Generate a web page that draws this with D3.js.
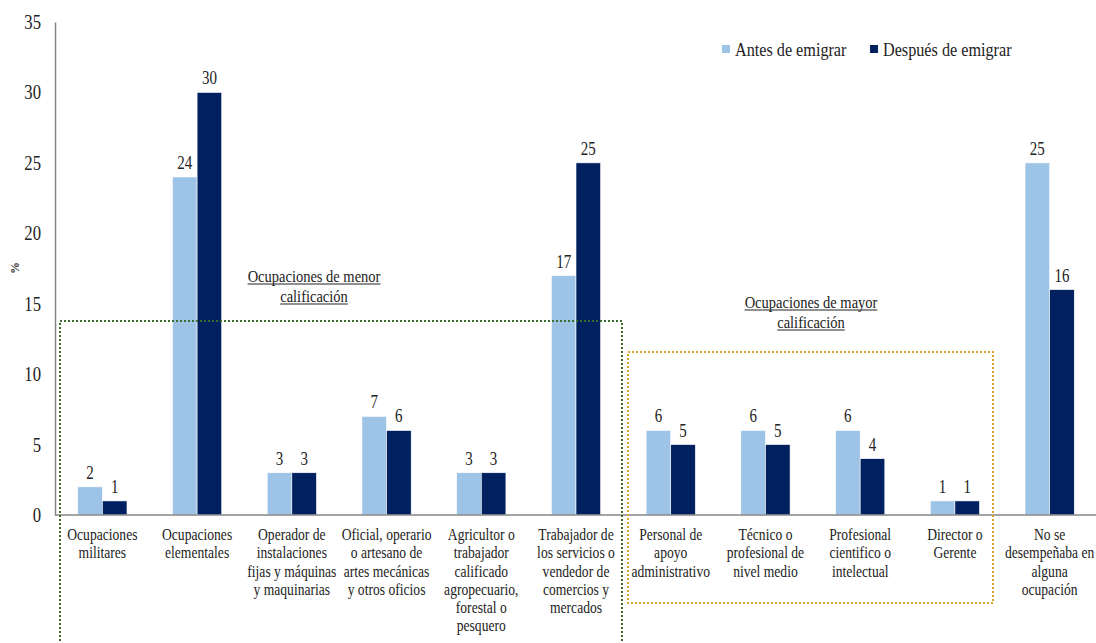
<!DOCTYPE html>
<html>
<head>
<meta charset="utf-8">
<script src="https://cdn.jsdelivr.net/npm/d3@7"></script>
<style>
  body { margin: 0; background: #fff; }
</style>
</head>
<body>
<svg width="1096" height="643" font-family="Liberation Serif"></svg>
<script>
// categories, one array of lines per label
const categories = [
    ["Ocupaciones", "militares"],
    ["Ocupaciones", "elementales"],
    ["Operador de", "instalaciones", "fijas y máquinas", "y maquinarias"],
    ["Oficial, operario", "o artesano de", "artes mecánicas", "y otros oficios"],
    ["Agricultor o", "trabajador", "calificado", "agropecuario,", "forestal o", "pesquero"],
    ["Trabajador de", "los servicios o", "vendedor de", "comercios y", "mercados"],
    ["Personal de", "apoyo", "administrativo"],
    ["Técnico o", "profesional de", "nivel medio"],
    ["Profesional", "cientifico o", "intelectual"],
    ["Director o", "Gerente"],
    ["No se", "desempeñaba en", "alguna", "ocupación"]
];
const antes = [2, 24, 3, 7, 3, 17, 6, 6, 6, 1, 25];
const despues = [1, 30, 3, 6, 3, 25, 5, 5, 4, 1, 16];
const seriesNames = ["Antes de emigrar", "Después de emigrar"];
const yTicks = [0, 5, 10, 15, 20, 25, 30, 35];

const colors = ["#9dc3e6", "#002060"];
const FONT = "Liberation Serif";
const sy = 1.2; // the reference is stretched a little vertically

let svg = d3.select("svg");
const area = { left: 55, right: 1097, top: 22, bottom: 515 };

let ids = categories.map((c, i) => i);
let scaleX = d3.scaleBand()
    .domain(ids)
    .range([area.left, area.right])
    .paddingInner(0.48)
    .paddingOuter(0.24);
let scaleSub = d3.scaleBand()
    .domain([0, 1])
    .range([0, scaleX.bandwidth()]);
let scaleY = d3.scaleLinear()
    .domain([0, 35])
    .range([area.bottom, area.top]);

function stretched(sel, x, y) {
    return sel.attr("transform", `translate(${x},${y}) scale(1,${sy})`);
}

// y axis
let axisY = d3.axisLeft(scaleY).tickValues(yTicks).tickSize(0).tickPadding(14);
let gy = svg.append("g")
    .attr("transform", `translate(${area.left},0)`)
    .call(axisY)
    .attr("font-family", FONT);
gy.select(".domain").attr("stroke", "#868686").attr("stroke-width", 1.5);
gy.selectAll("text")
    .attr("font-family", FONT)
    .attr("font-size", 16.7)
    .attr("fill", "#222")
    .attr("dy", null)
    .attr("y", 0)
    .attr("transform", `translate(0,6.5) scale(1,${sy})`);

svg.append("text")
    .attr("transform", "translate(19,268) rotate(-90)")
    .attr("text-anchor", "middle")
    .attr("font-family", FONT)
    .attr("font-size", 12)
    .attr("font-weight", "bold")
    .attr("fill", "#333")
    .text("%");

// bars
let rows = [];
ids.forEach(i => {
    rows.push({ cat: i, s: 0, v: antes[i] });
    rows.push({ cat: i, s: 1, v: despues[i] });
});

svg.selectAll(".bar")
    .data(rows)
    .enter()
    .append("rect")
    .attr("class", "bar")
    .attr("x", d => scaleX(d.cat) + scaleSub(d.s))
    .attr("y", d => scaleY(d.v))
    .attr("width", scaleSub.bandwidth())
    .attr("height", d => scaleY(0) - scaleY(d.v))
    .attr("fill", d => colors[d.s])
    .attr("stroke", "#fff")
    .attr("stroke-width", 0.6);

svg.selectAll(".val")
    .data(rows)
    .enter()
    .append("text")
    .attr("class", "val")
    .attr("text-anchor", "middle")
    .attr("font-family", FONT)
    .attr("font-size", 15)
    .attr("fill", "#222")
    .each(function (d) {
        stretched(d3.select(this), scaleX(d.cat) + scaleSub(d.s) + scaleSub.bandwidth() / 2, scaleY(d.v) - 8);
    })
    .text(d => d.v);

// x axis line
svg.append("line")
    .attr("x1", area.left).attr("x2", 1096)
    .attr("y1", scaleY(0)).attr("y2", scaleY(0))
    .attr("stroke", "#868686")
    .attr("stroke-width", 1.5);

// category labels
let labels = svg.selectAll(".cat")
    .data(categories)
    .enter()
    .append("g")
    .attr("class", "cat")
    .attr("transform", (d, i) => `translate(${scaleX(i) + scaleX.bandwidth() / 2},540) scale(1,${sy})`);
labels.selectAll("text")
    .data(d => d)
    .enter()
    .append("text")
    .attr("text-anchor", "middle")
    .attr("font-family", FONT)
    .attr("font-size", 13.6)
    .attr("fill", "#222")
    .attr("y", (d, j) => j * 18.3 / sy)
    .text(d => d);

// group boxes
svg.append("rect")
    .attr("x", 60).attr("y", 321)
    .attr("width", 562).attr("height", 340)
    .attr("fill", "none")
    .attr("stroke", "#3b6b2a")
    .attr("stroke-width", 2)
    .attr("stroke-dasharray", "2,2");
svg.append("rect")
    .attr("x", 628).attr("y", 352)
    .attr("width", 365).attr("height", 251)
    .attr("fill", "none")
    .attr("stroke", "#dba628")
    .attr("stroke-width", 2)
    .attr("stroke-dasharray", "2,2");

// underlined group titles
function groupTitle(lines, cx, y0) {
    lines.forEach((t, j) => {
        let g = stretched(svg.append("g"), cx, y0 + j * 20);
        let txt = g.append("text")
            .attr("text-anchor", "middle")
            .attr("font-family", FONT)
            .attr("font-size", 14.5)
            .attr("fill", "#222")
            .text(t);
        let w = txt.node().getComputedTextLength();
        g.append("line")
            .attr("x1", -w / 2).attr("x2", w / 2)
            .attr("y1", 1.6).attr("y2", 1.6)
            .attr("stroke", "#222")
            .attr("stroke-width", 0.9);
    });
}
groupTitle(["Ocupaciones de menor", "calificación"], 314, 282);
groupTitle(["Ocupaciones de mayor", "calificación"], 811, 308);

// legend
let legX = [722, 870];
seriesNames.forEach((name, i) => {
    svg.append("rect")
        .attr("x", legX[i]).attr("y", 45)
        .attr("width", 8).attr("height", 8)
        .attr("fill", colors[i]);
    stretched(svg.append("text"), legX[i] + 13, 56)
        .attr("font-family", FONT)
        .attr("font-size", 16.2)
        .attr("fill", "#222")
        .text(name);
});
</script>
</body>
</html>
